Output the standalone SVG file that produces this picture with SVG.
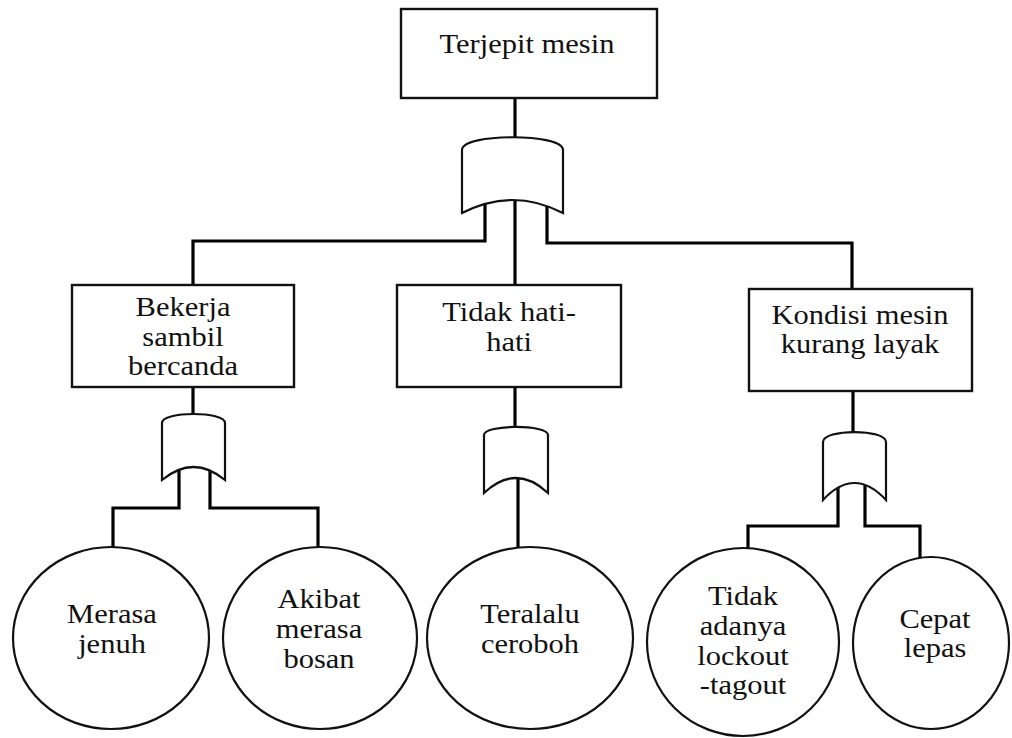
<svg xmlns="http://www.w3.org/2000/svg" width="1012" height="738" viewBox="0 0 1012 738">
<style>
.box{fill:#fff;stroke:#111;stroke-width:2.4}
.ev{fill:#fff;stroke:#111;stroke-width:2.2}
.gate{fill:#fff;stroke:#111;stroke-width:2.2;stroke-linejoin:miter}
.con{fill:none;stroke:#000;stroke-width:3.2;stroke-linejoin:miter}
.t{font-family:"Liberation Serif","Times New Roman",serif;font-size:27px;fill:#111;text-anchor:middle}
</style>
<rect width="1012" height="738" fill="#fff"/>
<g id="connectors">
<path class="con" d="M515,98 V140"/>
<path class="con" d="M485,200 V241 H193 V286"/>
<path class="con" d="M515,200 V286"/>
<path class="con" d="M547,200 V243 H852 V290"/>
<path class="con" d="M193,387 V416"/>
<path class="con" d="M179,467 V508 H113 V548"/>
<path class="con" d="M210,467 V508 H318 V548"/>
<path class="con" d="M515,387 V429"/>
<path class="con" d="M518,478 V548"/>
<path class="con" d="M853,391 V434"/>
<path class="con" d="M838,483 V526 H748 V548"/>
<path class="con" d="M865,483 V526 H920 V558"/>
</g>
<g id="top-event">
<rect class="box" x="401" y="9" width="256" height="89"/>
<text class="t" transform="translate(527 0) scale(1.13 1)" x="0" y="53">Terjepit mesin</text>
</g>
<g id="gate-top">
<path class="gate" d="M462,213 V150 C462,133 563,133 563,150 V213 Q512.5,187 462,213 Z"/>
</g>
<g id="event-bekerja">
<rect class="box" x="72" y="285" width="222" height="102"/>
<text class="t" transform="translate(183 0) scale(1.13 1)"><tspan x="0" y="316">Bekerja</tspan><tspan x="0" y="346">sambil</tspan><tspan x="0" y="375">bercanda</tspan></text>
</g>
<g id="event-tidak-hati">
<rect class="box" x="397" y="285" width="224" height="102"/>
<text class="t" transform="translate(509 0) scale(1.13 1)"><tspan x="0" y="321">Tidak hati-</tspan><tspan x="0" y="351">hati</tspan></text>
</g>
<g id="event-kondisi">
<rect class="box" x="749" y="289" width="223" height="102"/>
<text class="t" transform="translate(860 0) scale(1.13 1)"><tspan x="0" y="324">Kondisi mesin</tspan><tspan x="0" y="353">kurang layak</tspan></text>
</g>
<g id="gate-bekerja">
<path class="gate" d="M162,480 V423 C162,411 225,411 225,423 V480 Q193.5,454 162,480 Z"/>
</g>
<g id="gate-tidak-hati">
<path class="gate" d="M484,493 V435 C484,424.3 548,424.3 548,435 V493 Q516,463 484,493 Z"/>
</g>
<g id="gate-kondisi">
<path class="gate" d="M823,500 V442 C823,428.7 886,428.7 886,442 V500 Q854.5,466 823,500 Z"/>
</g>
<g id="basic-merasa-jenuh">
<ellipse class="ev" cx="111" cy="638" rx="98" ry="91"/>
<text class="t" transform="translate(112 0) scale(1.13 1)"><tspan x="0" y="623">Merasa</tspan><tspan x="0" y="653">jenuh</tspan></text>
</g>
<g id="basic-akibat-bosan">
<ellipse class="ev" cx="320" cy="638" rx="97" ry="91"/>
<text class="t" transform="translate(319 0) scale(1.13 1)"><tspan x="0" y="608">Akibat</tspan><tspan x="0" y="638">merasa</tspan><tspan x="0" y="668">bosan</tspan></text>
</g>
<g id="basic-teralalu-ceroboh">
<ellipse class="ev" cx="530" cy="638" rx="103" ry="91"/>
<text class="t" transform="translate(530 0) scale(1.13 1)"><tspan x="0" y="623">Teralalu</tspan><tspan x="0" y="653">ceroboh</tspan></text>
</g>
<g id="basic-lockout">
<ellipse class="ev" cx="743" cy="642" rx="96" ry="94"/>
<text class="t" transform="translate(743 0) scale(1.13 1)"><tspan x="0" y="605">Tidak</tspan><tspan x="0" y="635">adanya</tspan><tspan x="0" y="665">lockout</tspan><tspan x="0" y="694">-tagout</tspan></text>
</g>
<g id="basic-cepat-lepas">
<ellipse class="ev" cx="931" cy="643" rx="78" ry="86"/>
<text class="t" transform="translate(935 0) scale(1.13 1)"><tspan x="0" y="628">Cepat</tspan><tspan x="0" y="657">lepas</tspan></text>
</g>
</svg>
